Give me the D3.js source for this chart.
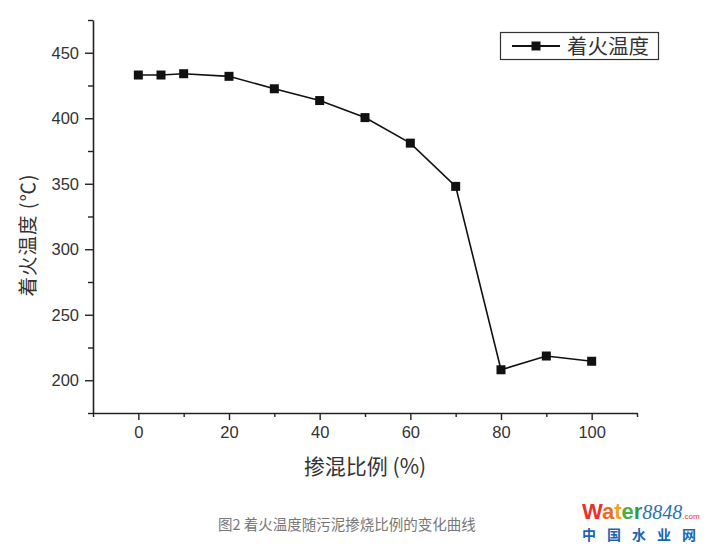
<!DOCTYPE html>
<html>
<head>
<meta charset="utf-8">
<script src="https://cdn.jsdelivr.net/npm/d3@7"></script>
<style>
  html, body { margin: 0; padding: 0; background: #fff; }
  svg { display: block; }
</style>
</head>
<body>
<svg id="chart" width="709" height="547"></svg>
<script>
// ---- data ----
const blendRatio = [0, 5, 10, 20, 30, 40, 50, 60, 70, 80, 90, 100];
const ignitionTemp = [433, 433, 434, 432, 422.5, 413.5, 400.5, 381, 348, 208, 218.5, 214.5];
const xMajorTicks = [0, 20, 40, 60, 80, 100];
const xMinorTicks = [-10, 10, 30, 50, 70, 90, 110];
const yMajorTicks = [200, 250, 300, 350, 400, 450];
const yMinorTicks = [175, 225, 275, 325, 375, 425, 475];
const seriesName = "着火温度";
const xTitle = "掺混比例 (%)";
const yTitle = "着火温度 (℃)";
const caption = "图2 着火温度随污泥掺烧比例的变化曲线";

const svg = d3.select("#chart");
const axisColor = "#222";
const textColor = "#333";

const x = d3.scaleLinear().domain([-10, 110]).range([93, 637]);
const y = d3.scaleLinear().domain([175, 475]).range([413, 20]);

const plotBottom = y(175), plotLeft = x(-10);

// x axis
const gx = svg.append("g").attr("transform", `translate(0,${plotBottom})`);
gx.call(d3.axisBottom(x).tickValues(xMajorTicks).tickSize(7).tickSizeOuter(0).tickPadding(6)
  .tickFormat(d3.format("d")));
gx.append("g").call(d3.axisBottom(x).tickValues(xMinorTicks).tickSize(4).tickSizeOuter(0).tickFormat(""))
  .select(".domain").remove();

// y axis
const gy = svg.append("g").attr("transform", `translate(${plotLeft},0)`);
gy.call(d3.axisLeft(y).tickValues(yMajorTicks).tickSize(8).tickSizeOuter(0).tickPadding(6)
  .tickFormat(d3.format("d")));
gy.append("g").call(d3.axisLeft(y).tickValues(yMinorTicks).tickSize(5).tickSizeOuter(0).tickFormat(""))
  .select(".domain").remove();

svg.selectAll(".domain").attr("stroke", axisColor).attr("stroke-width", 1.6);
svg.selectAll(".tick line").attr("stroke", axisColor).attr("stroke-width", 1.4);
svg.selectAll(".tick text")
  .attr("fill", textColor)
  .style("font-family", "'Liberation Sans', Arial, sans-serif")
  .style("font-size", "16.5px");

// axis titles
svg.append("text")
  .attr("x", (x(-10) + x(110)) / 2)
  .attr("y", 474)
  .attr("text-anchor", "middle")
  .attr("fill", textColor)
  .style("font-family", "'Noto Sans CJK SC', sans-serif")
  .style("font-size", "21px")
  .text(xTitle);

svg.append("text")
  .attr("transform", `translate(35,235) rotate(-90)`)
  .attr("text-anchor", "middle")
  .attr("fill", textColor)
  .style("font-family", "'Noto Sans CJK SC', sans-serif")
  .style("font-size", "19.5px")
  .style("letter-spacing", "1px")
  .text(yTitle);

// series
const pts = blendRatio.map((d, i) => [d, ignitionTemp[i]]);
svg.append("path")
  .datum(pts)
  .attr("fill", "none")
  .attr("stroke", "#111")
  .attr("stroke-width", 1.6)
  .attr("d", d3.line().x(d => x(d[0])).y(d => y(d[1])));

const ms = 9;
svg.append("g").selectAll("rect")
  .data(pts)
  .join("rect")
  .attr("x", d => x(d[0]) - ms / 2)
  .attr("y", d => y(d[1]) - ms / 2)
  .attr("width", ms)
  .attr("height", ms)
  .attr("fill", "#111");

// legend
const lg = svg.append("g");
lg.append("rect")
  .attr("x", 500.5).attr("y", 32.5).attr("width", 158).attr("height", 27)
  .attr("fill", "#fff").attr("stroke", "#333").attr("stroke-width", 1.2);
lg.append("line")
  .attr("x1", 512).attr("x2", 560).attr("y1", 46).attr("y2", 46)
  .attr("stroke", "#111").attr("stroke-width", 2);
lg.append("rect")
  .attr("x", 536 - ms / 2).attr("y", 46 - ms / 2).attr("width", ms).attr("height", ms)
  .attr("fill", "#111");
lg.append("text")
  .attr("x", 567).attr("y", 53.5)
  .attr("fill", textColor)
  .style("font-family", "'Noto Sans CJK SC', sans-serif")
  .style("font-size", "20.5px")
  .text(seriesName);

// caption
svg.append("text")
  .attr("x", 218).attr("y", 530)
  .attr("fill", "#777")
  .style("font-family", "'Noto Sans CJK SC', sans-serif")
  .style("font-size", "14.5px")
  .text(caption);

// watermark logo
const logo = svg.append("text")
  .attr("x", 582).attr("y", 519)
  .style("font-family", "'Liberation Sans', Arial, sans-serif")
  .style("font-weight", "bold")
  .style("font-size", "22px");
[["W", "#e8322b"], ["a", "#ee6a1f"], ["t", "#f2a51c"], ["e", "#4cae3c"], ["r", "#2e9a48"]]
  .forEach(([c, col]) => logo.append("tspan").attr("fill", col).text(c));
logo.append("tspan")
  .attr("fill", "#2a72b5")
  .attr("font-family", "'Liberation Serif', serif")
  .style("font-family", "'Liberation Serif', serif")
  .style("font-style", "italic")
  .style("font-weight", "normal")
  .style("font-size", "20px")
  .text("8848");
logo.append("tspan")
  .attr("fill", "#e8322b")
  .style("font-weight", "normal")
  .style("font-size", "8px")
  .text(".com");

svg.append("text")
  .attr("x", 582).attr("y", 540)
  .attr("fill", "#1d63b0")
  .style("font-family", "'Noto Sans CJK SC', sans-serif")
  .style("font-weight", "bold")
  .style("font-size", "14px")
  .style("letter-spacing", "11px")
  .text("中国水业网");
</script>
</body>
</html>
